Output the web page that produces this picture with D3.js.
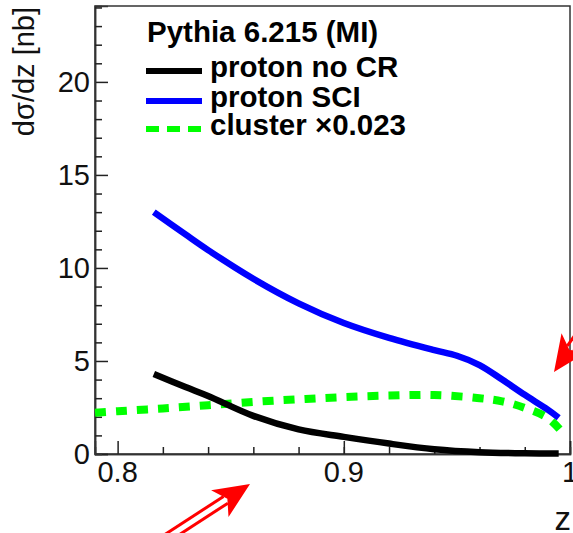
<!DOCTYPE html>
<html>
<head>
<meta charset="utf-8">
<script src="https://cdn.jsdelivr.net/npm/d3@7"></script>
<style>
  body { margin: 0; background: #fff; }
  text { font-family: "Liberation Sans", Arial, sans-serif; }
</style>
</head>
<body>
<svg id="chart" width="573" height="533"></svg>
<script>
// values
var zNoCR = [0.816, 0.83, 0.84, 0.86, 0.88, 0.90, 0.92, 0.94, 0.96, 0.98, 0.995];
var noCR  = [4.30, 3.60, 3.12, 2.05, 1.32, 0.92, 0.56, 0.26, 0.10, 0.04, 0.03];

var zSCI = [0.816, 0.83, 0.84, 0.86, 0.88, 0.90, 0.92, 0.94, 0.95, 0.96, 0.97, 0.98, 0.99, 0.995];
var sci  = [13.0, 11.8, 10.96, 9.42, 8.10, 7.04, 6.24, 5.58, 5.28, 4.78, 4.0, 3.18, 2.4, 1.95];

var zCluster = [0.79, 0.80, 0.82, 0.84, 0.86, 0.88, 0.90, 0.92, 0.94, 0.96, 0.97, 0.98, 0.99, 0.996];
var cluster  = [2.22, 2.3, 2.45, 2.62, 2.8, 2.94, 3.06, 3.14, 3.17, 3.0, 2.83, 2.48, 1.95, 1.25];

var xTickLabels = ["0.8", "0.9", "1"];
var yTickLabels = ["0", "5", "10", "15", "20"];
var legendTitle = "Pythia 6.215 (MI)";
var legendNames = ["proton no CR", "proton SCI", "cluster \u00d70.023"];
var seriesColors = ["#000", "#0000ff", "#00ff00"];

// note: "top" is taken by window.top, so use frame* names
var frameLeft = 95, frameRight = 570, frameTop = 6, frameBottom = 454;
var fontSize = 29;
var legendFontSize = 29.5;

var svg = d3.select("#chart");

var x = d3.scaleLinear().domain([0.79, 1.0]).range([frameLeft, frameRight]);
var y = d3.scaleLinear().domain([0, 24.08]).range([frameBottom, frameTop]);

function pairs(xs, ys) {
  return xs.map(function(v, i) { return [v, ys[i]]; });
}

var line = d3.line()
  .x(function(d) { return x(d[0]); })
  .y(function(d) { return y(d[1]); })
  .curve(d3.curveCatmullRom.alpha(0.5));

// frame
svg.append("rect")
  .attr("x", frameLeft).attr("y", frameTop)
  .attr("width", frameRight - frameLeft).attr("height", frameBottom - frameTop)
  .attr("fill", "none").attr("stroke", "#333").attr("stroke-width", 1.5);

// x ticks point up into the frame
var xMajor = d3.axisBottom(x).tickValues([0.8, 0.9, 1.0]).tickSize(-13).tickFormat("");
var xMinor = d3.axisBottom(x).tickValues(d3.range(0.82, 0.99, 0.02)).tickSize(-7).tickFormat("");
svg.append("g").attr("transform", "translate(0," + frameBottom + ")").call(xMajor);
svg.append("g").attr("transform", "translate(0," + frameBottom + ")").call(xMinor);

var yMajor = d3.axisLeft(y).tickValues([0, 5, 10, 15, 20]).tickSize(-13).tickFormat("");
var yMinor = d3.axisLeft(y).tickValues(d3.range(1, 25, 1).filter(function(v) { return v % 5 !== 0; })).tickSize(-7).tickFormat("");
svg.append("g").attr("transform", "translate(" + frameLeft + ",0)").call(yMajor);
svg.append("g").attr("transform", "translate(" + frameLeft + ",0)").call(yMinor);

svg.selectAll(".domain").attr("stroke", "#333").attr("stroke-width", 1.5);
svg.selectAll(".tick line").attr("stroke", "#222").attr("stroke-width", 1.5);

// tick labels
svg.append("g").selectAll("text")
  .data(xTickLabels)
  .enter().append("text")
  .attr("x", function(d) { return x(+d); })
  .attr("y", 482)
  .attr("text-anchor", "middle")
  .attr("font-size", fontSize)
  .attr("fill", "#111")
  .text(function(d) { return d; });

svg.append("g").selectAll("text")
  .data(yTickLabels)
  .enter().append("text")
  .attr("x", 90)
  .attr("y", function(d) { return y(+d) + 10; })
  .attr("text-anchor", "end")
  .attr("font-size", fontSize)
  .attr("fill", "#111")
  .text(function(d) { return d; });

// axis titles
svg.append("text")
  .attr("transform", "translate(34,7) rotate(-90)")
  .attr("text-anchor", "end")
  .attr("font-size", fontSize)
  .attr("fill", "#111")
  .text("d\u03c3/dz [nb]");

svg.append("text")
  .attr("x", 571).attr("y", 530)
  .attr("text-anchor", "end")
  .attr("font-size", 33)
  .attr("fill", "#111")
  .text("z");

// curves
var plot = svg.append("g");
plot.append("path")
  .datum(pairs(zCluster, cluster))
  .attr("d", line)
  .attr("fill", "none")
  .attr("stroke", seriesColors[2])
  .attr("stroke-width", 8)
  .attr("stroke-dasharray", "11,10");

plot.append("path")
  .datum(pairs(zNoCR, noCR))
  .attr("d", line)
  .attr("fill", "none")
  .attr("stroke", seriesColors[0])
  .attr("stroke-width", 6.5);

plot.append("path")
  .datum(pairs(zSCI, sci))
  .attr("d", line)
  .attr("fill", "none")
  .attr("stroke", seriesColors[1])
  .attr("stroke-width", 6.5);

// legend
var legend = svg.append("g");
legend.append("text")
  .attr("x", 147).attr("y", 42)
  .attr("font-size", legendFontSize).attr("font-weight", "bold")
  .text(legendTitle);

var rowY = [77, 107, 135];
legend.selectAll("line")
  .data(legendNames)
  .enter().append("line")
  .attr("x1", 146).attr("x2", 202)
  .attr("y1", function(d, i) { return rowY[i] - 6; })
  .attr("y2", function(d, i) { return rowY[i] - 6; })
  .attr("stroke", function(d, i) { return seriesColors[i]; })
  .attr("stroke-width", 6)
  .attr("stroke-dasharray", function(d, i) { return i === 2 ? "13,8" : null; });

legend.selectAll("text.entry")
  .data(legendNames)
  .enter().append("text")
  .attr("class", "entry")
  .attr("x", 210)
  .attr("y", function(d, i) { return rowY[i]; })
  .attr("font-size", legendFontSize).attr("font-weight", "bold")
  .text(function(d) { return d; });

// red annotation arrows
function arrow(tipX, tipY, angle, shaftLen) {
  var g = svg.append("g")
    .attr("transform", "translate(" + tipX + "," + tipY + ") rotate(" + angle + ")");
  // head points along +x, tip at origin
  g.append("path")
    .attr("d", "M0,0 L-36,-16 L-27,0 L-36,16 Z")
    .attr("fill", "#ff0000");
  g.append("line")
    .attr("x1", -29).attr("x2", -29 - shaftLen)
    .attr("y1", -4).attr("y2", -4)
    .attr("stroke", "#ff0000").attr("stroke-width", 3);
  g.append("line")
    .attr("x1", -29).attr("x2", -29 - shaftLen)
    .attr("y1", 4).attr("y2", 4)
    .attr("stroke", "#ff0000").attr("stroke-width", 3);
}

arrow(250, 484, -33, 80);
arrow(554, 372, 125, 60);
</script>
</body>
</html>
